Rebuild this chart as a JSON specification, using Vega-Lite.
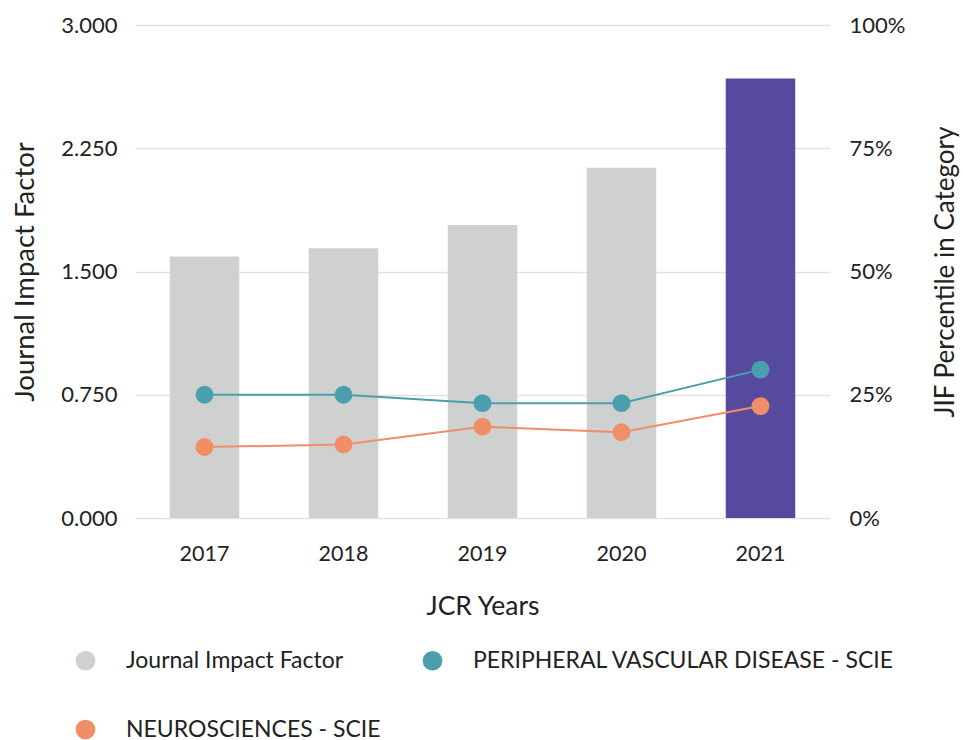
{
  "$schema": "https://vega.github.io/schema/vega-lite/v6.json",
  "autosize": {"type": "none"},
  "padding": {"left": 135, "top": 25, "right": 133, "bottom": 222},
  "width": 695,
  "height": 493,
  "background": "white",
  "config": {
    "font": "Lato",
    "view": {"stroke": null},
    "axis": {"labelFont": "Lato", "titleFont": "Lato", "labelColor": "#222", "titleColor": "#222", "titleFontWeight": "normal"},
    "legend": {"labelFont": "Lato"}
  },
  "data": {
    "values": [
      {"year": "2017", "series": "Journal Impact Factor", "value": 1.591},
      {"year": "2018", "series": "Journal Impact Factor", "value": 1.642},
      {"year": "2019", "series": "Journal Impact Factor", "value": 1.783},
      {"year": "2020", "series": "Journal Impact Factor", "value": 2.131},
      {"year": "2021", "series": "Journal Impact Factor", "value": 2.674},
      {"year": "2017", "series": "PERIPHERAL VASCULAR DISEASE - SCIE", "value": 25.0},
      {"year": "2018", "series": "PERIPHERAL VASCULAR DISEASE - SCIE", "value": 25.0},
      {"year": "2019", "series": "PERIPHERAL VASCULAR DISEASE - SCIE", "value": 23.3},
      {"year": "2020", "series": "PERIPHERAL VASCULAR DISEASE - SCIE", "value": 23.3},
      {"year": "2021", "series": "PERIPHERAL VASCULAR DISEASE - SCIE", "value": 30.1},
      {"year": "2017", "series": "NEUROSCIENCES - SCIE", "value": 14.4},
      {"year": "2018", "series": "NEUROSCIENCES - SCIE", "value": 14.9},
      {"year": "2019", "series": "NEUROSCIENCES - SCIE", "value": 18.5},
      {"year": "2020", "series": "NEUROSCIENCES - SCIE", "value": 17.4},
      {"year": "2021", "series": "NEUROSCIENCES - SCIE", "value": 22.7}
    ]
  },
  "encoding": {
    "x": {
      "field": "year", "type": "ordinal",
      "scale": {"paddingInner": 0.5, "paddingOuter": 0.25},
      "axis": {
        "title": "JCR Years", "labelAngle": 0, "labelFontSize": 21.5, "titleFontSize": 26.5,
        "domain": false, "ticks": false, "labelPadding": 25, "titlePadding": 29
      }
    }
  },
  "layer": [
    {
      "transform": [{"filter": "datum.series == 'Journal Impact Factor'"}],
      "mark": {"type": "bar"},
      "encoding": {
        "y": {
          "field": "value", "type": "quantitative",
          "scale": {"domain": [0, 3], "nice": false},
          "axis": {
            "title": "Journal Impact Factor", "values": [0, 0.75, 1.5, 2.25, 3], "format": ".3f",
            "labelFontSize": 22, "titleFontSize": 27.5, "domain": false, "ticks": false,
            "labelPadding": 18, "titlePadding": 21, "gridColor": "#e2e2e2", "gridWidth": 1.5
          }
        },
        "color": {
          "field": "series", "type": "nominal",
          "condition": {"test": "datum.year == '2021'", "value": "#564a9f"},
          "scale": {
            "domain": ["Journal Impact Factor", "PERIPHERAL VASCULAR DISEASE - SCIE", "NEUROSCIENCES - SCIE"],
            "range": ["#cfd0d0", "#4a9fad", "#f08e68"]
          },
          "legend": {
            "title": null, "orient": "none", "direction": "horizontal", "legendX": -61, "legendY": 624,
            "columns": 2, "symbolType": "circle", "symbolSize": 390, "symbolStrokeWidth": 0,
            "labelFontSize": 23, "labelColor": "#222", "labelOffset": 29, "rowPadding": 45, "columnPadding": 40,
            "labelLimit": 600
          }
        }
      }
    },
    {
      "transform": [{"filter": "datum.series != 'Journal Impact Factor'"}],
      "encoding": {
        "y": {
          "field": "value", "type": "quantitative",
          "scale": {"domain": [0, 100], "nice": false},
          "axis": {
            "title": "JIF Percentile in Category", "orient": "right", "values": [0, 25, 50, 75, 100],
            "labelExpr": "datum.value + '%'", "grid": false,
            "labelFontSize": 22, "titleFontSize": 26, "domain": false, "ticks": false,
            "labelPadding": 19, "titlePadding": 54, "titleAngle": 270, "titleBaseline": "bottom"
          }
        },
        "color": {"field": "series", "type": "nominal"}
      },
      "layer": [
        {"mark": {"type": "line", "strokeWidth": 2}},
        {"mark": {"type": "point", "filled": true, "size": 320, "opacity": 1}}
      ]
    }
  ],
  "resolve": {"scale": {"y": "independent"}}
}
